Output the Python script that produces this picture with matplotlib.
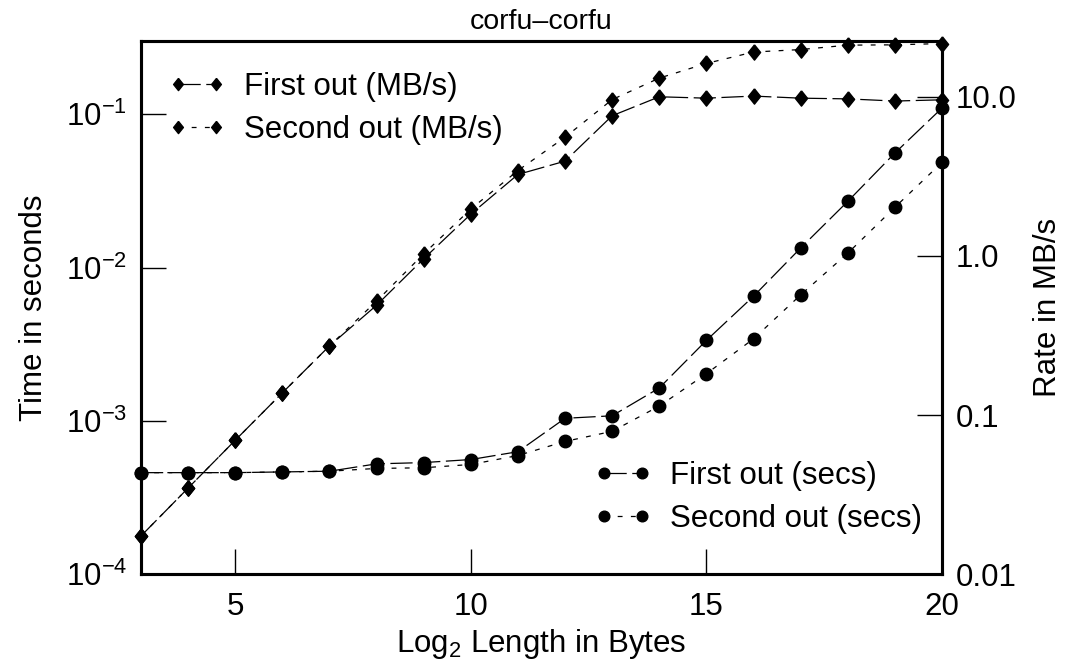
import matplotlib
matplotlib.use("Agg")
import matplotlib.pyplot as plt
from matplotlib.ticker import FixedLocator, NullLocator

plt.rcParams["font.family"] = ["Liberation Sans", "DejaVu Sans"]
plt.rcParams["mathtext.fontset"] = "custom"
plt.rcParams["mathtext.rm"] = "Liberation Sans"
plt.rcParams["mathtext.it"] = "Liberation Sans:italic"
plt.rcParams["lines.scale_dashes"] = False

# log2 of message length
log_len = [3, 4, 5, 6, 7, 8, 9, 10, 11, 12, 13, 14, 15, 16, 17, 18, 19, 20]

# time in seconds (left axis)
first_secs = [4.6e-4, 4.6e-4, 4.6e-4, 4.65e-4, 4.7e-4, 5.25e-4, 5.35e-4, 5.6e-4, 6.3e-4,
              1.04e-3, 1.08e-3, 1.64e-3, 3.35e-3, 6.5e-3, 0.0134, 0.027, 0.0558, 0.1096]
second_secs = [4.6e-4, 4.6e-4, 4.6e-4, 4.65e-4, 4.7e-4, 4.9e-4, 4.95e-4, 5.2e-4, 5.95e-4,
               7.35e-4, 8.55e-4, 1.25e-3, 2.03e-3, 3.43e-3, 6.63e-3, 0.0124, 0.0247, 0.0485]

# rate in MB/s (right axis)
first_rate = [0.0174, 0.0348, 0.0695, 0.138, 0.272, 0.49, 0.96, 1.83, 3.25,
              3.94, 7.6, 10.0, 9.8, 10.1, 9.8, 9.7, 9.4, 9.57]
second_rate = [0.0174, 0.0348, 0.0695, 0.138, 0.272, 0.52, 1.03, 1.97, 3.44,
               5.57, 9.6, 13.1, 16.2, 19.1, 19.8, 21.1, 21.2, 21.6]

rate_ticks = [0.01, 0.1, 1.0, 10.0]
rate_tick_labels = ["0.01", "0.1", "1.0", "10.0"]

FS = 22.5
diamond = [(0, 1), (0.8, 0), (0, -1), (-0.8, 0), (0, 1)]
long_dash = (0, (16, 4))
short_dash = (0, (3.5, 6))

fig = plt.figure(figsize=(10.68, 6.67), dpi=100)
ax = fig.add_axes([0.132, 0.139, 0.75, 0.7995])
ax2 = ax.twinx()

ax.plot(log_len, first_secs, color="black", lw=0.9, linestyle=long_dash,
        marker="o", ms=9, clip_on=False, label="First out (secs)")
ax.plot(log_len, second_secs, color="black", lw=0.9, linestyle=short_dash,
        marker="o", ms=9, clip_on=False, label="Second out (secs)")

ax2.plot(log_len, first_rate, color="black", lw=0.9, linestyle=long_dash,
         marker=diamond, ms=11, clip_on=False, label="First out (MB/s)")
ax2.plot(log_len, second_rate, color="black", lw=0.9, linestyle=short_dash,
         marker=diamond, ms=11, clip_on=False, label="Second out (MB/s)")

ax.set_xlim(3, 20)
ax.set_yscale("log")
ax.set_ylim(1e-4, 0.3)
ax2.set_yscale("log")
ax2.set_ylim(0.01, 22.4)

ax.xaxis.set_major_locator(FixedLocator([5, 10, 15, 20]))
ax.xaxis.set_minor_locator(NullLocator())
ax.yaxis.set_minor_locator(NullLocator())
ax2.yaxis.set_major_locator(FixedLocator(rate_ticks))
ax2.yaxis.set_minor_locator(NullLocator())
ax2.set_yticklabels(rate_tick_labels)

ax.tick_params(axis="both", direction="in", length=18, width=1, labelsize=FS, pad=10,
               top=False, right=False)
ax.tick_params(axis="x", pad=13)
ax2.tick_params(axis="y", direction="in", length=18, width=1, labelsize=FS, pad=10)

for a in (ax, ax2):
    for sp in a.spines.values():
        sp.set_linewidth(2.2)

ax.set_xlabel("Log$_2$ Length in Bytes", fontsize=FS, labelpad=3)
ax.set_ylabel("Time in seconds", fontsize=FS, labelpad=12)
ax2.set_ylabel("Rate in MB/s", fontsize=FS, labelpad=12)
ax.set_title("corfu\u2013corfu", fontsize=20.5, pad=9)

leg1 = ax2.legend(handles=ax2.get_lines(), loc="upper left", frameon=False, fontsize=FS,
                  numpoints=2, handlelength=1.8, handletextpad=0.6, markerscale=0.8,
                  labelspacing=0.42, bbox_to_anchor=(0.0, 0.995))
ax2.add_artist(leg1)
ax2.legend(handles=ax.get_lines(), loc="lower right", frameon=False, fontsize=FS,
           numpoints=2, handlelength=1.8, handletextpad=0.6, markerscale=0.85,
           labelspacing=0.42, bbox_to_anchor=(1.01, 0.023))

fig.savefig("out.png", dpi=100)
